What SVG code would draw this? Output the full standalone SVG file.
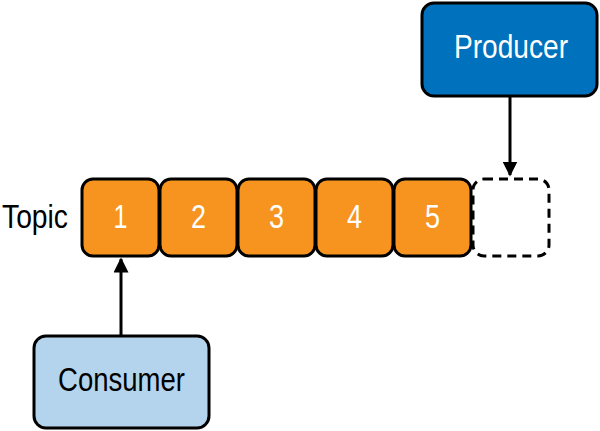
<svg xmlns="http://www.w3.org/2000/svg" width="600" height="431" viewBox="0 0 600 431">
<style>
.cell{fill:#F7941F;stroke:#000;stroke-width:3}
.num{font-family:"Liberation Sans",Arial,sans-serif;font-size:33px;fill:#fff;text-anchor:middle}
.lbl{font-family:"Liberation Sans",Arial,sans-serif;font-size:33px;text-anchor:middle}
.conn{stroke:#000;stroke-width:3;fill:none}
</style>
<defs>
<marker id="ah" markerWidth="5" markerHeight="5" refX="4.5" refY="2.5" orient="auto" markerUnits="strokeWidth">
<path d="M0,0 L5,2.5 L0,5 z" fill="#000"/>
</marker>
</defs>
<g id="topic-label"><text x="35" y="228" class="lbl" fill="#000" textLength="66" lengthAdjust="spacingAndGlyphs">Topic</text></g>
<g id="cell1"><rect class="cell" x="82" y="179" width="77" height="77" rx="11"/><text class="num" x="120.5" y="228" textLength="14" lengthAdjust="spacingAndGlyphs">1</text></g>
<g id="cell2"><rect class="cell" x="160" y="179" width="77" height="77" rx="11"/><text class="num" x="198.5" y="228" textLength="15" lengthAdjust="spacingAndGlyphs">2</text></g>
<g id="cell3"><rect class="cell" x="238" y="179" width="77" height="77" rx="11"/><text class="num" x="276.5" y="228" textLength="15" lengthAdjust="spacingAndGlyphs">3</text></g>
<g id="cell4"><rect class="cell" x="316" y="179" width="77" height="77" rx="11"/><text class="num" x="354.5" y="228" textLength="15" lengthAdjust="spacingAndGlyphs">4</text></g>
<g id="cell5"><rect class="cell" x="394" y="179" width="77" height="77" rx="11"/><text class="num" x="432.5" y="228" textLength="15" lengthAdjust="spacingAndGlyphs">5</text></g>
<g id="cell6"><rect x="473" y="179" width="76" height="77" rx="11" fill="#fff" stroke="#000" stroke-width="3" stroke-dasharray="9,6"/></g>
<g id="producer"><rect x="422" y="3" width="175" height="93" rx="12" fill="#0071BC" stroke="#000" stroke-width="3"/><text class="lbl" x="511" y="58" fill="#fff" textLength="114" lengthAdjust="spacingAndGlyphs">Producer</text></g>
<g id="consumer"><rect x="34" y="336" width="175" height="92" rx="12" fill="#B3D4EC" stroke="#000" stroke-width="3"/><text class="lbl" x="121.5" y="391" fill="#000" textLength="127" lengthAdjust="spacingAndGlyphs">Consumer</text></g>
<g id="connectors">
<line class="conn" x1="510" y1="97" x2="510" y2="175" marker-end="url(#ah)"/>
<line class="conn" x1="121" y1="335" x2="121" y2="259" marker-end="url(#ah)"/>
</g>
</svg>
